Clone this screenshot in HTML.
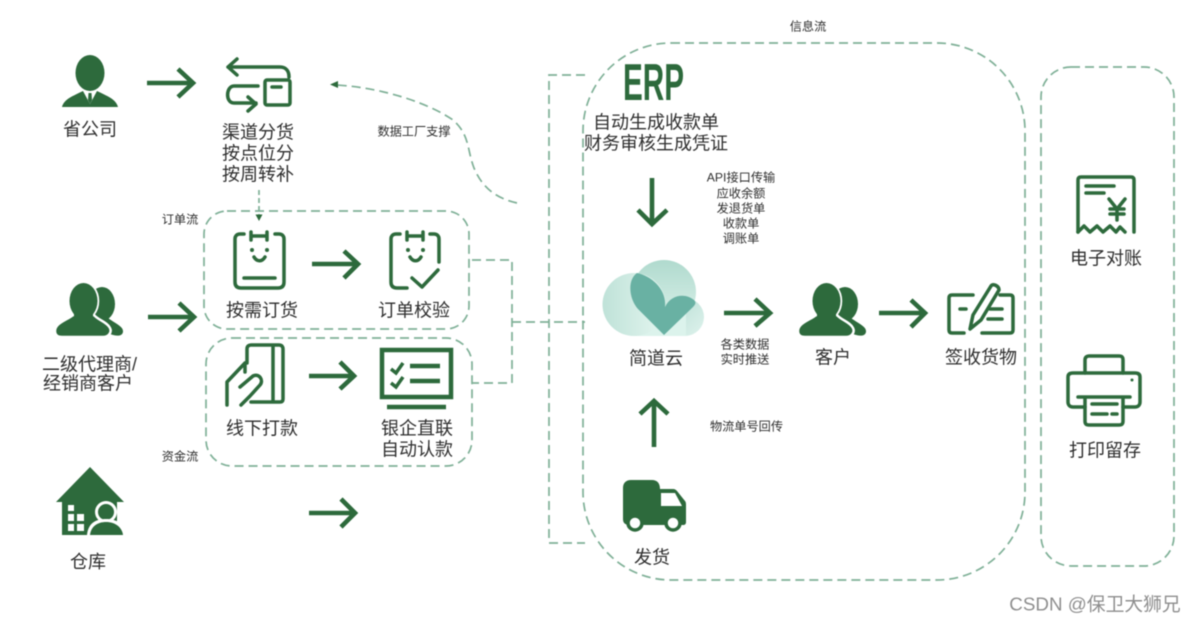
<!DOCTYPE html>
<html><head><meta charset="utf-8"><style>
html,body{margin:0;padding:0;background:#fff;width:1196px;height:622px;overflow:hidden}
svg{display:block;filter:blur(.5px)}
text{font-family:"Liberation Sans","Noto Sans CJK SC",sans-serif;fill:#2e2e2e;text-anchor:middle}
.l{font-size:18px}.s{font-size:12.2px}
.d{fill:none;stroke:#7fb097;stroke-width:1.7;stroke-dasharray:9 5}
.a{fill:none;stroke:#2d6a3c;stroke-width:4.6}
.i{fill:none;stroke:#2d6a3c;stroke-width:3.5;stroke-linecap:round;stroke-linejoin:round}
.f{fill:#2d6a3c}
</style></head><body>
<svg width="1196" height="622" viewBox="0 0 1196 622" xmlns="http://www.w3.org/2000/svg">
<defs>
<linearGradient id="g1" x1="0" y1="0" x2="1" y2="1"><stop offset="0" stop-color="#b5dcd2"/><stop offset="1" stop-color="#dff3ed"/></linearGradient>
<linearGradient id="g2" x1="0" y1="0" x2="1" y2="0"><stop offset="0" stop-color="#bfe2d8"/><stop offset="1" stop-color="#e4f6f0"/></linearGradient>
<linearGradient id="g3" x1="0" y1="0" x2="0" y2="1"><stop offset="0" stop-color="#b0dace"/><stop offset="1" stop-color="#dcf2eb"/></linearGradient>
</defs>

<!-- dashed containers and connectors -->
<rect class="d" x="204" y="211" width="265" height="118" rx="23"/>
<rect class="d" x="206" y="338" width="266" height="128" rx="26"/>
<rect class="d" x="583" y="43" width="442" height="537" rx="88"/>
<rect class="d" x="1041" y="67" width="133" height="499" rx="30"/>
<path class="d" d="M472 260H512V383H472"/>
<path class="d" d="M512 322H585"/>
<path class="d" d="M585 75H549V543H585"/>
<path class="d" d="M517 203C495 198 482 187 474 168C467 150 470 135 453 120C430 104 385 88 337 85"/>
<path d="M330 84.500L338 81V88Z" fill="#2d6a3c"/>
<path class="d" style="stroke-dasharray:5 3" d="M259 190V216"/>
<path d="M259 221L255.500 214.500H262.500Z" fill="#2d6a3c"/>

<!-- arrows -->
<path class="a" d="M147 83H193M178 69L193 83L178 97"/>
<path class="a" d="M148 317H194M179 303L194 317L179 331"/>
<path class="a" d="M312 264H358M344 251L358 264L344 278"/>
<path class="a" d="M309 376H354M340 362L354 376L340 389"/>
<path class="a" d="M309 513H355M341 499L355 513L341 527"/>
<path class="a" d="M652 178V224M638 210L652 224L667 210"/>
<path class="a" d="M724 313H770M755 299L770 313L755 326"/>
<path class="a" d="M654 447V401M640 414L654 401L668 414"/>
<path class="a" d="M879 313H925M911 300L925 313L911 327"/>

<!-- province person -->
<ellipse class="f" cx="90" cy="73" rx="14.500" ry="18"/>
<path class="f" d="M62 107C64 99 73 96 83 91L90 104L97 91C107 96 116 99 118 107Z"/>
<path class="f" d="M88.500 93H91.500L92 100L90 104L88 100Z"/>

<!-- channel icon -->
<path class="i" d="M289 77C289 71 286 67 280 67H228M237 59L228 67L237 75"/>
<path class="i" d="M258 86H234C226 86 225 103 234 103H256M248 97L256 104L248 111"/>
<rect class="i" x="265" y="80" width="25" height="25" rx="2"/><path class="i" d="M272 87H281"/>

<!-- two people -->
<g id="pp">
<ellipse class="f" cx="102" cy="304" rx="13" ry="17"/>
<path class="f" d="M104 314C110 322 124 325 123 332C122 337 115 336 110 334L92 320Z"/>
<ellipse class="f" cx="83.500" cy="301" rx="14.500" ry="18.500" stroke="#fff" stroke-width="2.500"/>
<path class="f" stroke="#fff" stroke-width="2.500" d="M73 315C67 320 55 323 55 331C55 336 59 337 62 337H103C109 337 112 332 110 328C107 322 98 320 94 315Z"/>
<ellipse class="f" cx="83.500" cy="301" rx="14" ry="18"/>
<path class="f" d="M74 314H93V322H74Z"/>
</g>
<use href="#pp" x="743" y="0"/>

<!-- clipboard -->
<path class="i" d="M244 234H240C237 234 235 236 235 239V282C235 286 237 288 241 288H278C282 288 284 286 284 282V239C284 236 282 234 279 234H275"/>
<path class="i" d="M251 236H267M251 232V240M267 232V240"/>
<circle class="f" cx="252" cy="250" r="2"/><circle class="f" cx="267" cy="250" r="2"/>
<path class="i" d="M254 257C257 262 262 262 265 257M244 278H275"/>
<path class="i" d="M400 234H396C393 234 391 236 391 239V282C391 286 393 288 397 288H407M439 262V239C439 236 437 234 434 234H430"/>
<path class="i" d="M407 236H423M407 232V240M423 232V240"/>
<circle class="f" cx="408" cy="250" r="2"/><circle class="f" cx="423" cy="250" r="2"/>
<path class="i" d="M410 257C413 262 418 262 421 257"/>
<path class="i" d="M412 278L422 287L438 270"/>

<!-- card and hand -->
<path class="i" d="M247 363V349C247 346 249 345 251 345H279C282 345 283 347 283 349V399C283 401 282 402 280 402H251M273 345V402"/>
<path class="i" d="M227 405V382L245 363V372"/>
<path class="i" d="M240 387L253 376C259 373 264 380 260 385L250 396L241 405"/>

<!-- monitor -->
<rect x="382" y="350" width="69" height="47" fill="none" stroke="#2d6a3c" stroke-width="4.500"/>
<path d="M387 407H446" stroke="#2d6a3c" stroke-width="4.500"/>
<path d="M410 366H440M410 381H440" stroke="#2d6a3c" stroke-width="4.500"/>
<path d="M391 369L396 373L403 363M391 383L396 387L403 377" fill="none" stroke="#2d6a3c" stroke-width="3.500"/>

<!-- house -->
<path class="f" d="M90 467L124 502H117V535H62V502H56Z"/>
<path fill="#fff" d="M68 505H74V511H68ZM68 514H74V521H68ZM77 514H84V521H77ZM68 524H74V531H68ZM77 524H84V531H77Z"/>
<circle cx="106" cy="512" r="11" fill="#fff"/><circle class="f" cx="106" cy="512" r="8"/>
<path fill="#fff" d="M87 535C88 523 96 519 106 519C117 519 125 524 126 535Z"/>
<path class="f" d="M90 535C91 526 98 522 106 522C115 522 122 527 123 535Z"/>

<!-- ERP -->
<text x="653.500" y="100" textLength="61" lengthAdjust="spacingAndGlyphs" style="font-size:52px;font-weight:700;fill:#2d6a3c">ERP</text>

<!-- cloud -->
<circle cx="664" cy="292" r="32" fill="url(#g3)"/>
<circle cx="685" cy="317" r="19" fill="url(#g1)"/>
<rect x="634" y="306" width="52" height="30" fill="#dcf3ec"/>
<circle cx="634" cy="304.500" r="31.500" fill="url(#g2)"/>
<path d="M637 273C627 280 629 299 638 309L664 335L693 307C696 304 696 302 694 300C686 293 671 294 665 307C667 290 652 276 637 273Z" fill="#69b1a3"/>

<!-- truck -->
<path class="f" d="M623 488C623 483 626 480 631 480H652C657 480 660 483 660 489H673C675 489 676 490 677 491L685 501C686 502 686 504 686 505V522C686 524 685 525 683 525H630C625 525 623 523 623 519Z"/>
<path d="M661 493H675L682 506H661Z" fill="#fff"/>
<circle cx="635" cy="523" r="7" fill="#fff" stroke="#2d6a3c" stroke-width="3.500"/>
<circle cx="673" cy="523" r="7" fill="#fff" stroke="#2d6a3c" stroke-width="3.500"/>

<!-- sign -->
<path class="i" d="M973 295H952C950 295 949 296 949 298V330C949 332 950 333 952 333H964M982 333H1010C1012 333 1013 332 1013 330V298C1013 296 1012 295 1010 295H1000"/>
<path class="i" d="M960 309H966M990 309H1002M988 319H1002"/>
<path class="i" d="M970 329L973 315L991 286C993 283 999 286 999 290L981 320Z"/>

<!-- receipt -->
<path class="i" d="M1078 232V180C1078 178 1079 177 1081 177H1131C1133 177 1134 178 1134 180V232"/>
<path class="i" d="M1078 232L1084 226L1090 232L1097 226L1103 232L1110 226L1116 232L1120 227L1125 232"/>
<path class="i" d="M1086 186H1114M1086 193H1104"/>
<path class="i" d="M1109 199L1117 209L1125 199M1117 209V220M1110 209H1124M1110 214H1124"/>

<!-- printer -->
<path class="i" d="M1085 407H1073C1070 407 1068 405 1068 402V377C1068 374 1070 373 1073 373H1135C1138 373 1140 374 1140 377V402C1140 405 1138 407 1135 407H1123"/>
<path class="i" d="M1085 373V360C1085 357 1087 356 1089 356H1119C1122 356 1123 357 1123 360V373"/>
<path class="i" d="M1078 397H1130M1085 397V421C1085 424 1086 425 1089 425H1119C1122 425 1123 424 1123 421V397"/>
<path class="i" d="M1092 404H1117M1092 414H1107M1112 414H1117"/>
<circle class="f" cx="1132" cy="380" r="1.500"/>

<!-- labels -->
<text class="l" x="90" y="135.500">省公司</text>
<text class="l" x="258" y="138.500">渠道分货</text>
<text class="l" x="258" y="159.500">按点位分</text>
<text class="l" x="258" y="180.500">按周转补</text>
<text class="l" x="262" y="316.500">按需订货</text>
<text class="l" x="414" y="316.500">订单校验</text>
<text class="l" x="262" y="434.500">线下打款</text>
<text class="l" x="417" y="434.500">银企直联</text>
<text class="l" x="417" y="455.500">自动认款</text>
<text class="l" x="89.500" y="370.500">二级代理商/</text>
<text class="l" x="88" y="389.500">经销商客户</text>
<text class="l" x="88" y="568">仓库</text>
<text class="l" x="656" y="128.500">自动生成收款单</text>
<text class="l" x="656" y="149.500">财务审核生成凭证</text>
<text class="l" x="656" y="364.500">简道云</text>
<text class="l" x="833" y="363.500">客户</text>
<text class="l" x="981" y="363.500">签收货物</text>
<text class="l" x="652" y="563.500">发货</text>
<text class="l" x="1106" y="264.500">电子对账</text>
<text class="l" x="1105" y="456.500">打印留存</text>
<text class="s" x="808" y="30.500">信息流</text>
<text class="s" x="180" y="223.500">订单流</text>
<text class="s" x="180" y="460.500">资金流</text>
<text class="s" x="414" y="135.500">数据工厂支撑</text>
<text class="s" x="741" y="181.500">API接口传输</text>
<text class="s" x="741" y="197.500">应收余额</text>
<text class="s" x="741" y="212.500">发退货单</text>
<text class="s" x="741" y="227.500">收款单</text>
<text class="s" x="741" y="242.500">调账单</text>
<text class="s" x="745" y="348.500">各类数据</text>
<text class="s" x="745" y="363.500">实时推送</text>
<text class="s" x="746.500" y="430.500">物流单号回传</text>
<text x="1095" y="610.500" style="font-size:18.800px;fill:#8e8e8e">CSDN @保卫大狮兄</text>
</svg>
</body></html>
